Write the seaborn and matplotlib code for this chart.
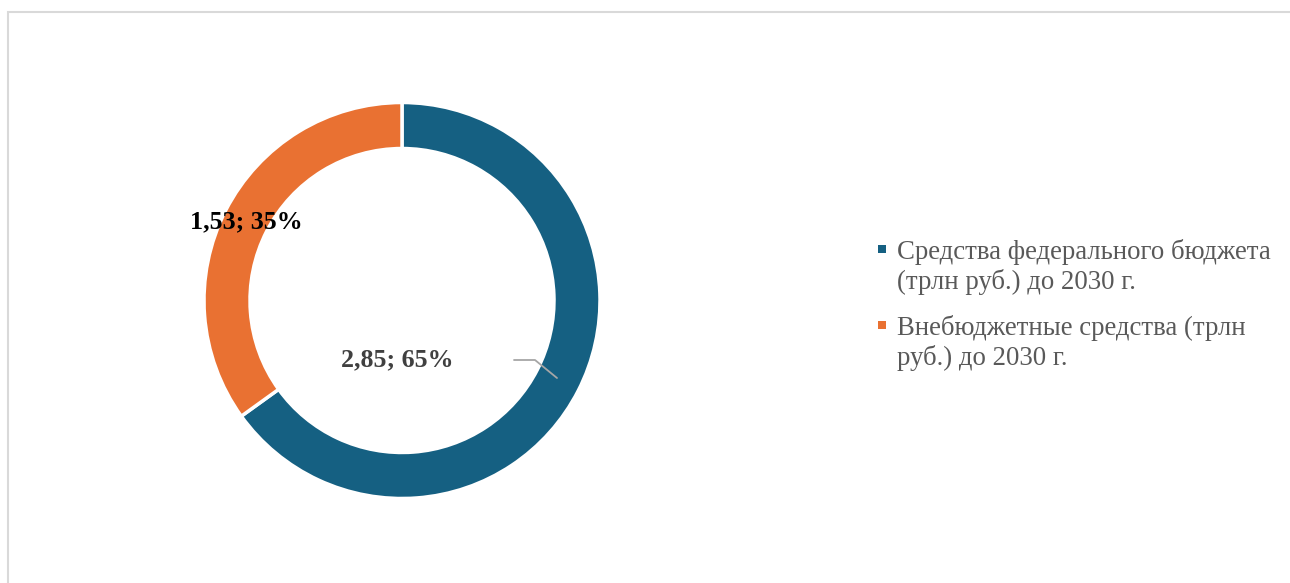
import numpy as np
import matplotlib.pyplot as plt
import seaborn as sns
from matplotlib.patches import Rectangle

sns.set_theme(style="white")
plt.rcParams["font.family"] = ["Liberation Serif", "DejaVu Serif"]

categories = ["Средства федерального бюджета\n(трлн руб.) до 2030 г.",
              "Внебюджетные средства (трлн\nруб.) до 2030 г."]
values = [2.85, 1.53]
shares = [65, 35]
colors = ["#156082", "#E97132"]
label_colors = ["#404040", "#000000"]

W, H = 1290, 583
fig = plt.figure(figsize=(W / 100, H / 100), dpi=100)
fig.patch.set_facecolor("white")

# frame around chart area
fig.add_artist(Rectangle((8 / W, -0.05), 1.2, (H - 12) / H + 0.05, transform=fig.transFigure,
                         fill=False, edgecolor="#d9d9d9", linewidth=1.5))

cx, cy, r = 402, 300.5, 198
ax = fig.add_axes([(cx - r) / W, (H - cy - r) / H, 2 * r / W, 2 * r / H])
ax.pie(values, colors=colors, startangle=90, counterclock=False, radius=1,
       wedgeprops=dict(width=46 / r, edgecolor="white", linewidth=2.5))
ax.set_xlim(-1, 1)
ax.set_ylim(-1, 1)
ax.set_aspect("equal")
ax.axis("off")

def px(x, y):
    return ((x - cx) / r, (cy - y) / r)

# data labels
lx, ly = px(397, 360)
ax.text(lx, ly, f"{values[0]:.2f}".replace(".", ",") + f"; {shares[0]}%", ha="center", va="center",
        fontsize=18.7, fontweight="bold", color=label_colors[0])
lx, ly = px(246, 222)
ax.text(lx, ly, f"{values[1]:.2f}".replace(".", ",") + f"; {shares[1]}%", ha="center", va="center",
        fontsize=18.7, fontweight="bold", color=label_colors[1])

# leader line
pts = [px(514, 360), px(535, 360), px(557, 378)]
ax.plot([p[0] for p in pts], [p[1] for p in pts], color="#a6a6a6", linewidth=1.3, clip_on=False)

# legend
ys = [249, 325]
for lab, col, y in zip(categories, colors, ys):
    fig.add_artist(Rectangle((878 / W, (H - y - 4) / H), 8 / W, 8 / H, transform=fig.transFigure,
                             facecolor=col, edgecolor="none"))
    fig.text(897 / W, (H - y + 10) / H, lab, ha="left", va="top", fontsize=19.3, color="#595959",
             linespacing=1.22, transform=fig.transFigure)

fig.savefig("out.png", dpi=100, facecolor="white")
